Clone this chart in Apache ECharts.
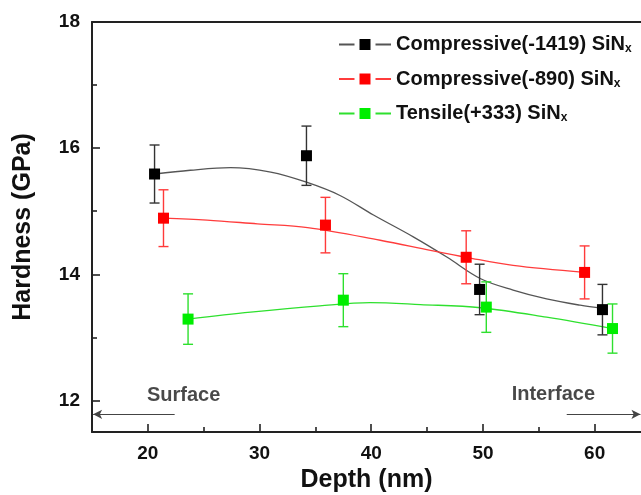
<!DOCTYPE html>
<html>
<head>
<meta charset="utf-8">
<style>
  html, body { margin: 0; padding: 0; background: #fff; }
  #chart { width: 641px; height: 495px; }
</style>
<script src="https://cdn.jsdelivr.net/npm/echarts@6/dist/echarts.min.js"></script>
</head>
<body>
<div id="chart"></div>
<script>
// Measured hardness (GPa) against depth (nm), with +/- error
const depthBlack = [20.6, 34.2, 49.7, 60.7];
const hardBlack  = [15.59, 15.88, 13.76, 13.44];
const errBlack   = [0.46, 0.47, 0.40, 0.40];

const depthRed = [21.4, 35.9, 48.5, 59.1];
const hardRed  = [14.89, 14.78, 14.27, 14.03];
const errRed   = [0.45, 0.44, 0.42, 0.42];

const depthGreen = [23.6, 37.5, 50.3, 61.6];
const hardGreen  = [13.29, 13.59, 13.48, 13.14];
const errGreen   = [0.40, 0.42, 0.40, 0.39];

// Fitted trend curves
const fitBlackX = [20.6, 23.8, 27.4, 31.0, 34.2, 37.2, 40.2, 43.8, 46.8, 49.8, 52.7, 55.7, 58.7, 60.7];
const fitBlackY = [15.59, 15.65, 15.69, 15.62, 15.46, 15.25, 14.94, 14.59, 14.27, 13.93, 13.75, 13.61, 13.51, 13.46];
const fitRedX = [21.4, 25.3, 29.8, 34.3, 40.8, 45.3, 48.5, 52.7, 59.1];
const fitRedY = [14.89, 14.86, 14.80, 14.74, 14.54, 14.38, 14.27, 14.14, 14.03];
const fitGreenX = [23.6, 29.2, 35.4, 39.9, 44.4, 49.8, 55.7, 61.6];
const fitGreenY = [13.29, 13.40, 13.50, 13.55, 13.52, 13.47, 13.32, 13.14];

const seriesNames = ['Compressive(-1419) SiN', 'Compressive(-890) SiN', 'Tensile(+333) SiN'];

// Axis ticks
const xMajorTicks = [20, 30, 40, 50, 60];
const xMinorTicks = [25, 35, 45, 55];
const yMajorTicks = [12, 14, 16, 18];
const yMinorTicks = [13, 15, 17];

// Direction annotations
const noteText = ['Surface', 'Interface'];
const noteX = [23.2, 56.3];
const noteY = [12.08, 12.1];
const arrowY = 11.78;
const surfaceArrow = [22.4, 15.1];
const interfaceArrow = [57.5, 64.1];

const FONT = '"Liberation Sans", Arial, sans-serif';

function zip(xs, ys) { return xs.map((x, i) => [x, ys[i]]); }
function errData(xs, ys, es) { return xs.map((x, i) => [x, ys[i], ys[i] - es[i], ys[i] + es[i]]); }

function errorBars(color) {
  return function (params, api) {
    const x = api.value(0);
    const lo = api.coord([x, api.value(2)]);
    const hi = api.coord([x, api.value(3)]);
    const cap = 5;
    const style = { stroke: color, lineWidth: 1.4 };
    return {
      type: 'group',
      children: [
        { type: 'line', shape: { x1: lo[0], y1: lo[1], x2: hi[0], y2: hi[1] }, style },
        { type: 'line', shape: { x1: lo[0] - cap, y1: lo[1], x2: lo[0] + cap, y2: lo[1] }, style },
        { type: 'line', shape: { x1: hi[0] - cap, y1: hi[1], x2: hi[0] + cap, y2: hi[1] }, style }
      ]
    };
  };
}

const groups = [
  { name: seriesNames[0], fx: fitBlackX, fy: fitBlackY, px: depthBlack, py: hardBlack, pe: errBlack,
    mark: '#000000', line: '#555555', bar: '#333333' },
  { name: seriesNames[1], fx: fitRedX, fy: fitRedY, px: depthRed, py: hardRed, pe: errRed,
    mark: '#ff0000', line: '#ff3c3c', bar: '#ff3a3a' },
  { name: seriesNames[2], fx: fitGreenX, fy: fitGreenY, px: depthGreen, py: hardGreen, pe: errGreen,
    mark: '#00ee00', line: '#2ee02e', bar: '#2ee02e' }
];

const series = [];
groups.forEach((g) => {
  series.push({
    type: 'line', name: g.name, data: zip(g.fx, g.fy),
    smooth: 0.35, showSymbol: false, symbol: 'rect',
    itemStyle: { color: g.mark },
    lineStyle: { color: g.line, width: 1.3 },
    z: 2, silent: true
  });
  series.push({
    type: 'custom', name: g.name + ' err', data: errData(g.px, g.py, g.pe),
    renderItem: errorBars(g.bar), z: 3, silent: true
  });
  series.push({
    type: 'scatter', name: g.name + ' pts', data: zip(g.px, g.py),
    symbol: 'rect', symbolSize: 11, itemStyle: { color: g.mark, opacity: 1 }, z: 4, silent: true
  });
});

// arrows and annotation labels
series.push({
  type: 'line', name: 'arrows', data: [], silent: true,
  markLine: {
    silent: true, animation: false,
    symbol: ['none', 'arrow'], symbolSize: [7, 9],
    label: { show: false },
    lineStyle: { color: '#444', width: 1, type: 'solid' },
    data: [
      [{ coord: [surfaceArrow[0], arrowY] }, { coord: [surfaceArrow[1], arrowY] }],
      [{ coord: [interfaceArrow[0], arrowY] }, { coord: [interfaceArrow[1], arrowY] }]
    ],
    itemStyle: { color: '#111' }
  }
});
series.push({
  type: 'scatter', name: 'notes', symbolSize: 0, silent: true,
  data: noteText.map((t, i) => ({ value: [noteX[i], noteY[i]], name: t })),
  label: {
    show: true, position: 'inside', formatter: p => p.name,
    fontFamily: FONT, fontWeight: 'bold', fontSize: 20, color: '#1a1a1a'
  }
});

const axisText = { fontFamily: FONT, fontWeight: 'bold', fontSize: 19, color: '#111' };
const axisLineStyle = { color: '#222', width: 2 };
const X_MIN = 15, X_MAX = 64.15;

const option = {
  backgroundColor: '#fff',
  animation: false,
  grid: { left: 92, top: 22, right: 0, bottom: 63, outerBoundsMode: 'none', containLabel: false },
  legend: {
    orient: 'vertical', left: 333, top: 29,
    itemWidth: 52, itemHeight: 20, itemGap: 13.5,
    data: seriesNames.map(n => ({ name: n, itemStyle: { borderColor: '#fff', borderWidth: 5 } })),
    formatter: n => '{t|' + n + '}{s|x}',
    textStyle: {
      rich: {
        t: { fontFamily: FONT, fontWeight: 'bold', fontSize: 20, color: '#111', lineHeight: 22 },
        s: { fontFamily: FONT, fontWeight: 'bold', fontSize: 12, color: '#111', lineHeight: 22, padding: [9, 0, 0, 0] }
      }
    },
    selectedMode: false
  },
  xAxis: [
    {
      type: 'value', min: X_MIN, max: X_MAX, position: 'bottom',
      name: 'Depth (nm)', nameLocation: 'middle', nameGap: 36,
      nameTextStyle: { fontFamily: FONT, fontWeight: 'bold', fontSize: 25, color: '#111' },
      axisLine: { show: true, lineStyle: axisLineStyle },
      axisTick: { show: true, inside: true, length: 8, lineStyle: { color: '#222', width: 1.6 }, customValues: xMajorTicks },
      axisLabel: Object.assign({ margin: 12, customValues: xMajorTicks }, axisText),
      splitLine: { show: false }
    },
    {
      type: 'value', min: X_MIN, max: X_MAX, position: 'bottom',
      axisLine: { show: false },
      axisTick: { show: true, inside: true, length: 5, lineStyle: { color: '#222', width: 1.6 }, customValues: xMinorTicks },
      axisLabel: { show: false }, splitLine: { show: false }
    },
    {
      type: 'value', min: X_MIN, max: X_MAX, position: 'top',
      axisLine: { show: true, lineStyle: axisLineStyle },
      axisTick: { show: false }, axisLabel: { show: false }, splitLine: { show: false }
    }
  ],
  yAxis: [
    {
      type: 'value', min: 11.5, max: 18, position: 'left',
      name: 'Hardness (GPa)', nameLocation: 'middle', nameGap: 56,
      nameTextStyle: { fontFamily: FONT, fontWeight: 'bold', fontSize: 25, color: '#111' },
      axisLine: { show: true, lineStyle: axisLineStyle },
      axisTick: { show: true, inside: true, length: 8, lineStyle: { color: '#222', width: 1.6 }, customValues: yMajorTicks },
      axisLabel: Object.assign({ margin: 12, customValues: yMajorTicks }, axisText),
      splitLine: { show: false }
    },
    {
      type: 'value', min: 11.5, max: 18, position: 'left',
      axisLine: { show: false },
      axisTick: { show: true, inside: true, length: 5, lineStyle: { color: '#222', width: 1.6 }, customValues: yMinorTicks },
      axisLabel: { show: false }, splitLine: { show: false }
    }
  ],
  series: series
};

const chart = echarts.init(document.getElementById('chart'), null, { renderer: 'canvas' });
chart.setOption(option);
</script>
</body>
</html>
